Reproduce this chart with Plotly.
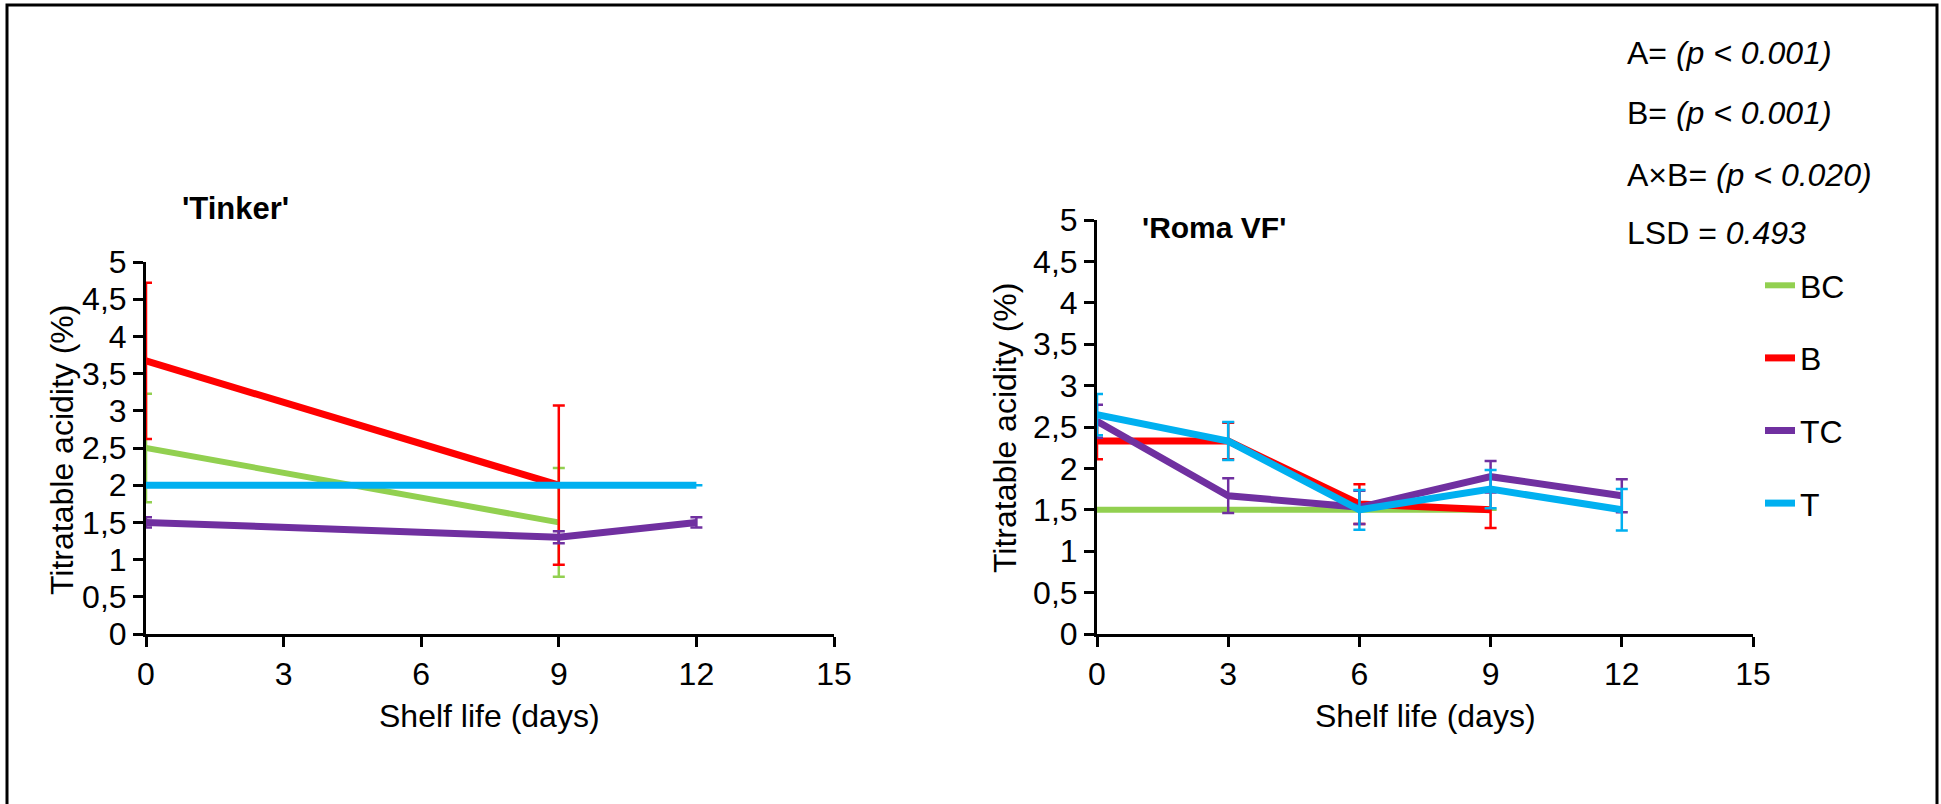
import plotly.graph_objects as go

W, H = 1941, 804

# ---------------- data ----------------
series_names = ["BC", "B", "TC", "T"]
series_colors = ["#92D050", "#FF0000", "#7030A0", "#00B0F0"]
series_widths = [6, 7, 7, 7]

# 'Tinker'
tinker_days = {
    "BC": [0, 9],
    "B": [0, 9],
    "TC": [0, 9, 12],
    "T": [0, 9, 12],
}
tinker_acid = {
    "BC": [2.5, 1.5],
    "B": [3.67, 2.0],
    "TC": [1.5, 1.3, 1.5],
    "T": [2.0, 2.0, 2.0],
}
tinker_err = {
    "BC": [0.73, 0.73],
    "B": [1.05, 1.07],
    "TC": [0.07, 0.08, 0.07],
    "T": [0.0, 0.0, 0.0],
}

# 'Roma VF'
roma_days = {
    "BC": [0, 3, 6, 9],
    "B": [0, 3, 6, 9],
    "TC": [0, 3, 6, 9, 12],
    "T": [0, 3, 6, 9, 12],
}
roma_acid = {
    "BC": [1.5, 1.5, 1.5, 1.5],
    "B": [2.33, 2.33, 1.57, 1.5],
    "TC": [2.57, 1.67, 1.53, 1.9, 1.67],
    "T": [2.65, 2.33, 1.5, 1.75, 1.5],
}
roma_err = {
    "BC": [0.0, 0.0, 0.0, 0.0],
    "B": [0.22, 0.22, 0.24, 0.22],
    "TC": [0.2, 0.21, 0.2, 0.19, 0.2],
    "T": [0.25, 0.23, 0.24, 0.23, 0.25],
}

x_tickvals = [0, 3, 6, 9, 12, 15]
x_ticktext = ["0", "3", "6", "9", "12", "15"]
y_tickvals = [0, 0.5, 1, 1.5, 2, 2.5, 3, 3.5, 4, 4.5, 5]
y_ticktext = ["0", "0,5", "1", "1,5", "2", "2,5", "3", "3,5", "4", "4,5", "5"]

stats_lines = [
    "A= <i>(p &lt; 0.001)</i>",
    "B= <i>(p &lt; 0.001)</i>",
    "A×B= <i>(p &lt; 0.020)</i>",
    "LSD = <i>0.493</i>",
]

FONT = "Liberation Sans, Arial, sans-serif"
FS = 32


def px_x(p):
    return p / W


def px_y(p):
    return 1 - p / H


fig = go.Figure()

for name, color, lw in zip(series_names, series_colors, series_widths):
    fig.add_trace(go.Scatter(
        x=tinker_days[name], y=tinker_acid[name], mode="lines", name=name,
        line=dict(color=color, width=lw), legendgroup=name, showlegend=False,
        error_y=dict(type="data", array=tinker_err[name], visible=True,
                     color=color, thickness=2.5, width=6),
        xaxis="x", yaxis="y",
    ))

for name, color, lw in zip(series_names, series_colors, series_widths):
    fig.add_trace(go.Scatter(
        x=roma_days[name], y=roma_acid[name], mode="lines", name=name,
        line=dict(color=color, width=lw), legendgroup=name, showlegend=True,
        error_y=dict(type="data", array=roma_err[name], visible=True,
                     color=color, thickness=2.5, width=6),
        xaxis="x2", yaxis="y2",
    ))

axis_common = dict(
    showline=True, linecolor="black", linewidth=3,
    ticks="outside", ticklen=10, tickwidth=3, tickcolor="black",
    showgrid=False, zeroline=False, automargin=False,
    tickfont=dict(family=FONT, size=FS, color="black"),
)

fig.update_layout(
    template="none",
    width=W, height=H,
    margin=dict(l=0, r=0, t=0, b=0, pad=0),
    paper_bgcolor="white", plot_bgcolor="white",
    font=dict(family=FONT, size=FS, color="black"),
    xaxis=dict(domain=[px_x(146), px_x(834)], range=[0, 15], anchor="y",
               tickvals=x_tickvals, ticktext=x_ticktext, **axis_common),
    yaxis=dict(domain=[px_y(634), px_y(262)], range=[0, 5], anchor="x",
               tickvals=y_tickvals, ticktext=y_ticktext, **axis_common),
    xaxis2=dict(domain=[px_x(1097), px_x(1753)], range=[0, 15], anchor="y2",
                tickvals=x_tickvals, ticktext=x_ticktext, **axis_common),
    yaxis2=dict(domain=[px_y(634), px_y(220)], range=[0, 5], anchor="x2",
                tickvals=y_tickvals, ticktext=y_ticktext, **axis_common),
    showlegend=True,
    legend=dict(
        x=px_x(1760), y=px_y(258), xanchor="left", yanchor="top",
        font=dict(family=FONT, size=FS, color="black"),
        tracegroupgap=28, bgcolor="rgba(0,0,0,0)", borderwidth=0,
    ),
)

annotations = []
# axis titles
annotations.append(dict(text="Titratable acidity (%)", textangle=-90,
                        x=px_x(62), y=px_y(450), xref="paper", yref="paper",
                        showarrow=False, xanchor="center", yanchor="middle",
                        font=dict(family=FONT, size=FS)))
annotations.append(dict(text="Titratable acidity (%)", textangle=-90,
                        x=px_x(1005), y=px_y(428), xref="paper", yref="paper",
                        showarrow=False, xanchor="center", yanchor="middle",
                        font=dict(family=FONT, size=FS)))
annotations.append(dict(text="Shelf life (days)", x=px_x(490), y=px_y(716),
                        xref="paper", yref="paper", showarrow=False,
                        xanchor="center", yanchor="middle",
                        font=dict(family=FONT, size=FS)))
annotations.append(dict(text="Shelf life (days)", x=px_x(1425), y=px_y(716),
                        xref="paper", yref="paper", showarrow=False,
                        xanchor="center", yanchor="middle",
                        font=dict(family=FONT, size=FS)))
# chart titles
annotations.append(dict(text="<b>'Tinker'</b>", x=px_x(180), y=px_y(209),
                        xref="paper", yref="paper", showarrow=False,
                        xanchor="left", yanchor="middle",
                        font=dict(family=FONT, size=31)))
annotations.append(dict(text="<b>'Roma VF'</b>", x=px_x(1140), y=px_y(227),
                        xref="paper", yref="paper", showarrow=False,
                        xanchor="left", yanchor="middle",
                        font=dict(family=FONT, size=30)))
# statistics
for t, yy in zip(stats_lines, [53, 113, 175, 233]):
    annotations.append(dict(text=t, x=px_x(1625), y=px_y(yy), xref="paper",
                            yref="paper", showarrow=False, xanchor="left",
                            yanchor="middle", font=dict(family=FONT, size=FS)))
fig.update_layout(annotations=annotations)

# outer frame
fig.add_shape(type="rect", xref="paper", yref="paper",
              x0=px_x(7), x1=px_x(1937), y0=px_y(5), y1=px_y(830),
              line=dict(color="black", width=3), fillcolor="rgba(0,0,0,0)")

fig.write_html("out.html")
